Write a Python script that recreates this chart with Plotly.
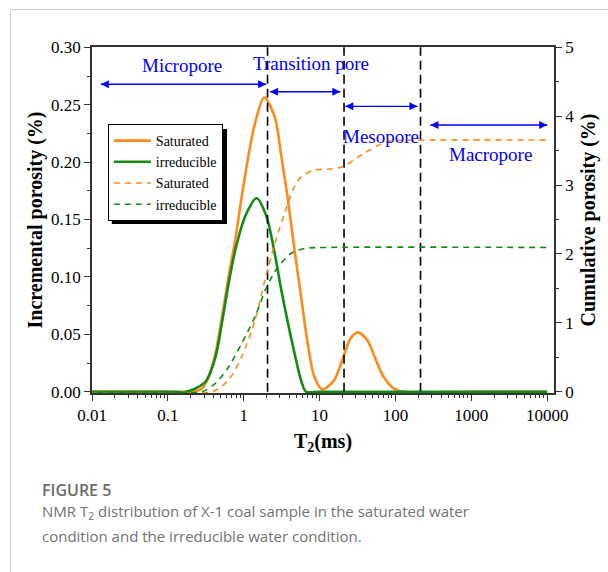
import plotly.graph_objects as go

# ---------------- data ----------------
sat_t2 = [0.01, 0.1, 0.21, 0.283, 0.346, 0.423, 0.516, 0.631, 0.771, 0.94, 1.15, 1.41, 1.86,
          2.56, 3.13, 3.83, 4.68, 5.70, 6.97, 8.53, 10.9, 15.5, 21.0, 25.6, 32.0, 42.3, 54.3,
          69.7, 94.2, 126, 1000, 10000]
sat_inc = [0, 0, 0, 0.003, 0.013, 0.033, 0.065, 0.100, 0.132, 0.170, 0.205, 0.234, 0.2565,
           0.2395, 0.205, 0.167, 0.123, 0.083, 0.042, 0.013, 0.002, 0.010, 0.032, 0.0465, 0.0517,
           0.045, 0.029, 0.013, 0.003, 0, 0, 0]

irr_t2 = [0.01, 0.1, 0.172, 0.232, 0.313, 0.423, 0.516, 0.631, 0.771, 1.04, 1.48, 2.0, 2.56,
          3.13, 3.83, 4.68, 5.70, 6.64, 10, 100, 10000]
irr_inc = [0, 0, 0, 0.003, 0.0087, 0.030, 0.060, 0.094, 0.123, 0.1525, 0.1685, 0.1525, 0.1205,
           0.0886, 0.0596, 0.0334, 0.010, 0, 0, 0, 0]

satc_t2 = [0.01, 0.1, 0.383, 0.631, 0.94, 1.41, 1.90, 2.56, 3.46, 4.45, 5.70, 8.53, 12.7, 20.0,
           38.3, 77.1, 208, 10000]
sat_cum = [0, 0, 0, 0.17, 0.51, 1.04, 1.62, 2.15, 2.59, 2.93, 3.12, 3.22, 3.23, 3.266, 3.46,
           3.63, 3.653, 3.653]

irrc_t2 = [0.01, 0.1, 0.283, 0.423, 0.631, 0.94, 1.41, 2.0, 2.83, 4.23, 6.31, 12.7, 10000]
irr_cum = [0, 0, 0, 0.12, 0.36, 0.70, 1.09, 1.52, 1.81, 2.01, 2.08, 2.095, 2.095]

boundaries = [2.06, 21.0, 214.0]          # pore-class boundaries (ms)
pore_names = ["Micropore", "Transition pore", "Mesopore", "Macropore"]

left_ticks = [0.00, 0.05, 0.10, 0.15, 0.20, 0.25, 0.30]
right_ticks = [0, 1, 2, 3, 4, 5]
x_ticks = [0.01, 0.1, 1, 10, 100, 1000, 10000]
x_tick_text = ["0.01", "0.1", "1", "10", "100", "1000", "10000"]

# ---------------- style ----------------
ORANGE = "#FF8A1C"
GREEN = "#148A14"
BLUE = "#0000FF"
SERIF = "Liberation Serif"
AX = "#333333"

fig = go.Figure()

fig.add_trace(go.Scatter(x=sat_t2, y=sat_inc, name="Saturated", mode="lines",
                         line=dict(color=ORANGE, width=2.6, shape="spline", smoothing=0.8)))
fig.add_trace(go.Scatter(x=irr_t2, y=irr_inc, name="irreducible", mode="lines",
                         line=dict(color=GREEN, width=2.6, shape="spline", smoothing=0.8)))
fig.add_trace(go.Scatter(x=satc_t2, y=sat_cum, name="Saturated", mode="lines", yaxis="y2",
                         line=dict(color=ORANGE, width=1.6, dash="6px,5px", shape="spline",
                                   smoothing=0.8)))
fig.add_trace(go.Scatter(x=irrc_t2, y=irr_cum, name="irreducible", mode="lines", yaxis="y2",
                         line=dict(color=GREEN, width=1.6, dash="6px,5px", shape="spline",
                                   smoothing=0.8)))

for b in boundaries:
    fig.add_trace(go.Scatter(x=[b, b], y=[0, 0.30], mode="lines", showlegend=False,
                             hoverinfo="skip",
                             line=dict(color="black", width=1.6, dash="9px,5px")))

# double-headed range arrows and labels
arrow_spans = [(0.0131, 1.975, 0.2678), (2.23, 18.8, 0.2613), (21.8, 195, 0.2486),
               (289, 10000, 0.2323)]
label_pos = [(-0.82, 0.2845), (0.893, 0.286), (1.809, 0.2227), (3.252, 0.207)]
for (x0, x1, yy) in arrow_spans:
    fig.add_trace(go.Scatter(x=[x0, x1], y=[yy, yy], mode="lines+markers", showlegend=False,
                             hoverinfo="skip", line=dict(color=BLUE, width=1.4),
                             marker=dict(symbol=["arrow-left", "arrow-right"], size=8,
                                         color=BLUE, line=dict(width=0))))
for name, (lx, ly) in zip(pore_names, label_pos):
    fig.add_annotation(x=lx, y=ly, xref="x", yref="y", text=name, showarrow=False,
                       font=dict(family=SERIF, size=19, color=BLUE))

# caption and card border
fig.add_annotation(x=-0.113, y=-0.280, xref="paper", yref="paper", xanchor="left",
                   yanchor="middle", showarrow=False, text="FIGURE 5",
                   font=dict(family="Open Sans", size=16, color="#6a6a6a", weight=600))
fig.add_annotation(x=-0.113, y=-0.344, xref="paper", yref="paper", xanchor="left",
                   yanchor="middle", showarrow=False,
                   text="NMR T<sub>2</sub> distribution of X-1 coal sample in the saturated water",
                   font=dict(family="Open Sans", size=15, color="#727272"))
fig.add_annotation(x=-0.113, y=-0.413, xref="paper", yref="paper", xanchor="left",
                   yanchor="middle", showarrow=False,
                   text="condition and the irreducible water condition.",
                   font=dict(family="Open Sans", size=15, color="#727272"))

fig.add_shape(type="line", xref="paper", yref="paper", x0=-0.1767, x1=-0.1767, y0=1.1084,
              y1=-0.6, line=dict(color="#d0d0d0", width=1))
fig.add_shape(type="line", xref="paper", yref="paper", x0=-0.1767, x1=1.2, y0=1.1084,
              y1=1.1084, line=dict(color="#d0d0d0", width=1))
# legend shadow
fig.add_shape(type="rect", xref="paper", yref="paper", x0=0.0428, x1=0.2923, y0=0.4884,
              y1=0.763, fillcolor="black", line=dict(width=0), layer="above")

fig.update_layout(
    width=608, height=572,
    margin=dict(l=92, r=49, t=47, b=179),
    paper_bgcolor="white", plot_bgcolor="white",
    font=dict(family=SERIF, color="black"),
    legend=dict(x=0.0343, y=0.7775, xanchor="left", yanchor="top", bgcolor="white",
                bordercolor="black", borderwidth=1, font=dict(family=SERIF, size=14),
                tracegroupgap=0, itemwidth=37),
    xaxis=dict(type="log", range=[-2.0, 4.09], tickvals=x_ticks, ticktext=x_tick_text,
               ticks="outside", ticklen=6, tickwidth=1.2, tickcolor=AX,
               showline=True, linecolor=AX, linewidth=1.5, mirror=True,
               showgrid=False, zeroline=False,
               tickfont=dict(family=SERIF, size=17),
               minor=dict(ticks="outside", ticklen=3, tickwidth=1, tickcolor=AX,
                          showgrid=False, dtick="D1"),
               title=dict(text="<b>T<sub>2</sub>(ms)</b>",
                          font=dict(family=SERIF, size=20), standoff=10)),
    yaxis=dict(range=[-0.0011, 0.3003], tickvals=left_ticks, tickformat=".2f",
               ticks="outside", ticklen=6, tickwidth=1.2, tickcolor=AX,
               showline=True, linecolor=AX, linewidth=1.5, showgrid=False, zeroline=False,
               tickfont=dict(family=SERIF, size=17),
               minor=dict(ticks="outside", ticklen=3, tickwidth=1, tickcolor=AX, dtick=0.025),
               title=dict(text="<b>Incremental porosity (%)</b>",
                          font=dict(family=SERIF, size=20), standoff=3)),
    yaxis2=dict(range=[-0.0183, 5.005], tickvals=right_ticks, overlaying="y", side="right",
                anchor="x", ticks="outside", ticklen=6, tickwidth=1.2, tickcolor=AX,
                showline=True, linecolor=AX, linewidth=1.5, showgrid=False, zeroline=False,
                tickfont=dict(family=SERIF, size=17),
                minor=dict(ticks="outside", ticklen=3, tickwidth=1, tickcolor=AX, dtick=0.5),
                title=dict(text="<b>Cumulative porosity (%)</b>",
                           font=dict(family=SERIF, size=20), standoff=8)),
    showlegend=True,
)

fig.write_html("out.html")
